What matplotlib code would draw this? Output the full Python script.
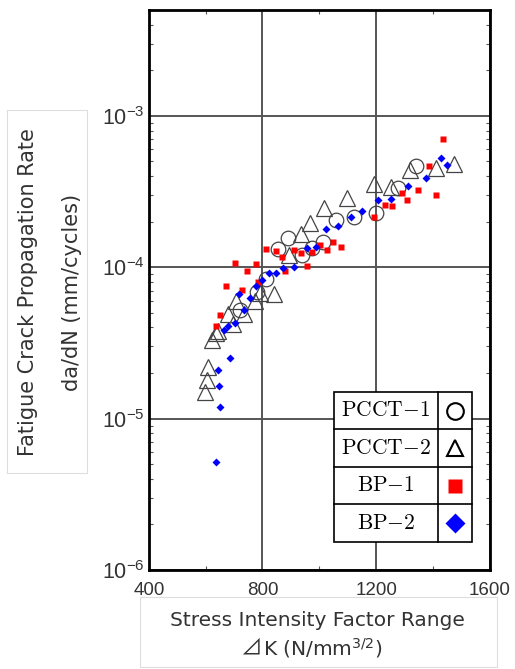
import matplotlib
matplotlib.use("Agg")
import matplotlib.pyplot as plt
import matplotlib.patches as patches
from matplotlib.ticker import LogLocator, FixedLocator

plt.rcParams['mathtext.fontset'] = 'custom'
plt.rcParams['mathtext.rm'] = 'Liberation Sans'
plt.rcParams['mathtext.it'] = 'Liberation Sans:italic'
plt.rcParams['mathtext.bf'] = 'Liberation Sans:bold'
plt.rcParams['font.family'] = ['Liberation Sans', 'DejaVu Sans']

# Data
pcct1_k = [1342, 1277, 1201, 1121, 1058, 1013, 976, 938, 890, 855, 814, 779, 720]
pcct1_rate = [4.67e-4, 3.32e-4, 2.29e-4, 2.14e-4, 2.04e-4, 1.47e-4, 1.34e-4, 1.20e-4,
              1.56e-4, 1.31e-4, 8.3e-5, 6.9e-5, 5.2e-5]

pcct2_k = [1473, 1412, 1318, 1251, 1192, 1098, 1016, 969, 934, 894, 840, 791, 772,
           706, 735, 679, 697, 644, 621, 609, 605, 597, 638]
pcct2_rate = [4.83e-4, 4.5e-4, 4.37e-4, 3.39e-4, 3.53e-4, 2.85e-4, 2.47e-4, 1.96e-4,
              1.66e-4, 1.21e-4, 6.65e-5, 6.76e-5, 5.96e-5, 6.0e-5, 4.9e-5, 4.9e-5,
              4.2e-5, 3.77e-5, 3.32e-5, 2.2e-5, 1.8e-5, 1.5e-5, 3.67e-5]

bp1_k = [1436, 1386, 1410, 1347, 1309, 1291, 1256, 1232, 1192, 1076, 1049, 1027,
         1002, 973, 937, 910, 955, 870, 846, 812, 777, 746, 705, 879, 673, 727,
         650, 638, 785]
bp1_rate = [7.0e-4, 4.67e-4, 3.0e-4, 3.24e-4, 2.77e-4, 3.1e-4, 2.55e-4, 2.58e-4,
            2.14e-4, 1.36e-4, 1.47e-4, 1.30e-4, 1.41e-4, 1.26e-4, 1.24e-4, 1.30e-4,
            1.02e-4, 1.16e-4, 1.28e-4, 1.31e-4, 1.05e-4, 9.4e-5, 1.07e-4, 9.5e-5,
            7.5e-5, 7.1e-5, 4.8e-5, 4.1e-5, 8.0e-5]

bp2_k = [1427, 1448, 1375, 1312, 1253, 1206, 1152, 1110, 1066, 1025, 988, 955, 910,
         873, 847, 822, 797, 777, 755, 718, 735, 703, 677, 664, 685, 644, 647, 652, 636]
bp2_rate = [5.25e-4, 4.73e-4, 3.88e-4, 3.43e-4, 2.82e-4, 2.78e-4, 2.34e-4, 2.14e-4,
            1.86e-4, 1.80e-4, 1.36e-4, 1.34e-4, 1.01e-4, 9.85e-5, 9.2e-5, 9.2e-5,
            8.2e-5, 7.5e-5, 6.3e-5, 6.7e-5, 5.25e-5, 4.3e-5, 4.1e-5, 3.87e-5, 2.5e-5,
            2.1e-5, 1.65e-5, 1.2e-5, 5.2e-6]

legend_labels = ["PCCT{-}1", "PCCT{-}2", "BP{-}1", "BP{-}2"]

fig = plt.figure(figsize=(5.15, 6.69), dpi=100)
ax = fig.add_axes([0.289, 0.148, 0.662, 0.837])

ax.plot(pcct1_k, pcct1_rate, 'o', ms=10.5, mfc='none', mec='#444444', mew=0.9)
ax.plot(pcct2_k, pcct2_rate, '^', ms=11.5, mfc='none', mec='#444444', mew=0.9)
ax.plot(bp1_k, bp1_rate, 's', ms=5, color='#ff0000', mec='none')
ax.plot(bp2_k, bp2_rate, 'D', ms=4.2, color='#0000ff', mec='none')

ax.set_yscale('log')
ax.set_xlim(400, 1600)
ax.set_ylim(1e-6, 5e-3)
ax.xaxis.set_major_locator(FixedLocator([400, 800, 1200, 1600]))
ax.xaxis.set_minor_locator(FixedLocator([600, 1000, 1400]))
ax.yaxis.set_major_locator(LogLocator(base=10, numticks=10))
ax.yaxis.set_minor_locator(LogLocator(base=10, subs=range(2, 10), numticks=10))
ax.grid(True, which='major', color='#555555', lw=1.4)
ax.tick_params(which='both', direction='in', top=True, right=True, labelcolor='#333333')
ax.tick_params(axis='x', which='major', length=0, pad=9, labelsize=13.5)
ax.tick_params(axis='y', which='major', length=0, pad=3, labelsize=15.5)
ax.tick_params(which='minor', length=3, width=0.8, color='#555555')
for sp in ax.spines.values():
    sp.set_linewidth(2)

# legend drawn as a small table
x0, x1, xd = 0.5425, 0.947, 0.848
y0, y1 = 0.05, 0.318
rh = (y1 - y0) / 4
ax.add_patch(patches.Rectangle((x0, y0), x1 - x0, y1 - y0, transform=ax.transAxes,
                               fc='white', ec='black', lw=1.2, zorder=5))
ax.plot([xd, xd], [y0, y1], color='black', lw=1.2, transform=ax.transAxes, zorder=6)
for i in range(1, 4):
    ax.plot([x0, x1], [y0 + i * rh] * 2, color='black', lw=1.2,
            transform=ax.transAxes, zorder=6)
styles = [dict(marker='o', ms=12, mfc='none', mec='black', mew=1.5),
          dict(marker='^', ms=12, mfc='none', mec='black', mew=1.5),
          dict(marker='s', ms=10.5, color='#ff0000', mec='none'),
          dict(marker='D', ms=10.5, color='#0000ff', mec='none')]
for i, (lab, st) in enumerate(zip(legend_labels, styles)):
    yc = y1 - (i + 0.5) * rh
    ax.text((x0 + xd) / 2, yc, r"$\mathrm{" + lab + "}$", transform=ax.transAxes,
            ha='center', va='center', fontsize=15.5, zorder=7,
            math_fontfamily='cm')
    ax.plot([(xd + x1) / 2], [yc], transform=ax.transAxes, ls='none', zorder=7, **st)

# axis labels in light boxes
ylab_kw = dict(fontsize=15, color='#333333', family='DejaVu Sans')
xlab_kw = dict(fontsize=14.5, color='#333333', family='DejaVu Sans')
fig.patches.append(patches.Rectangle((0.0136, 0.293), 0.155, 0.543, transform=fig.transFigure,
                                     fc='white', ec='#dddddd', lw=0.8))
fig.text(0.055, 0.5635, "Fatigue Crack Propagation Rate", rotation=90,
         ha='center', va='center', **ylab_kw)
fig.text(0.139, 0.5635, "da/dN (mm/cycles)", rotation=90,
         ha='center', va='center', **ylab_kw)

fig.patches.append(patches.Rectangle((0.272, 0.003), 0.693, 0.105, transform=fig.transFigure,
                                     fc='white', ec='#dddddd', lw=0.8))
fig.text(0.617, 0.072, "Stress Intensity Factor Range",
         ha='center', va='center', **xlab_kw)
fig.text(0.509, 0.021, "⊿", ha='right', va='baseline', fontsize=15.5,
         color='#333333', family='Noto Sans CJK JP')
fig.text(0.511, 0.021, "K (N/mm$^{3/2}$)", ha='left', va='baseline',
         math_fontfamily='dejavusans', **xlab_kw)

fig.savefig("out.png", dpi=100)
